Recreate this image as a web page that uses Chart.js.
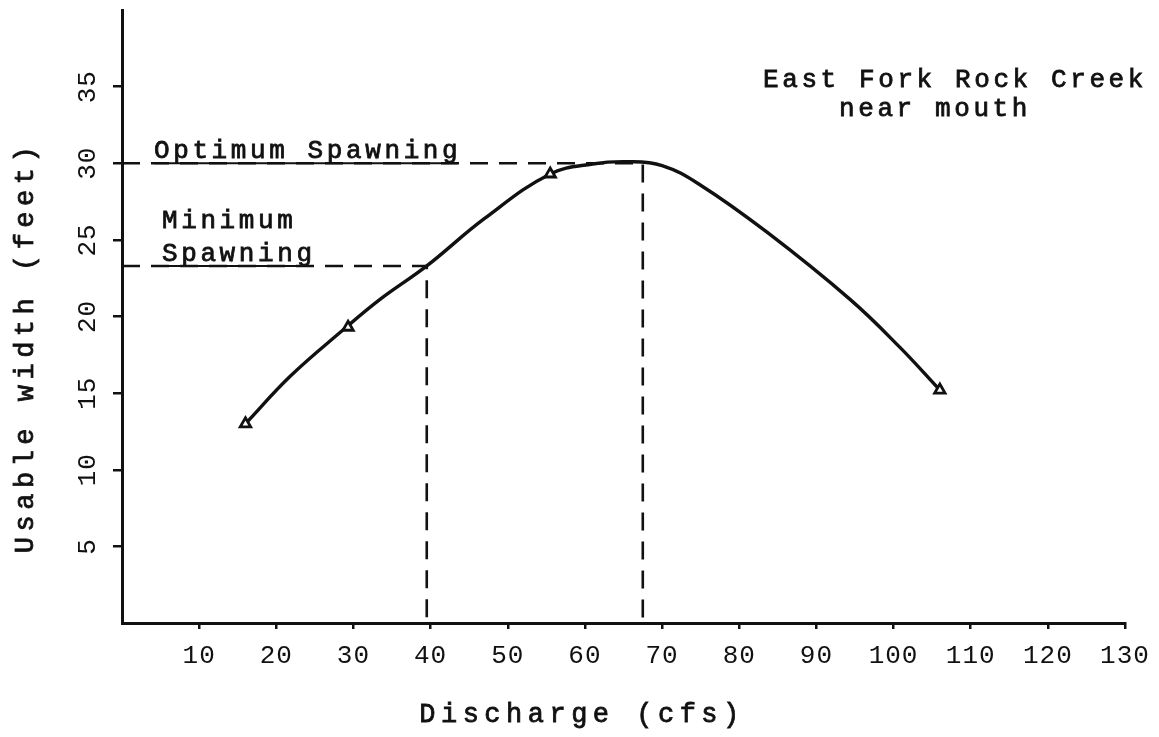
<!DOCTYPE html>
<html>
<head>
<meta charset="utf-8">
<script src="https://cdn.jsdelivr.net/npm/chart.js@4.4.1/dist/chart.umd.min.js"></script>
<style>
  html, body { margin: 0; padding: 0; background: #fff; }
  #wrap { width: 1159px; height: 737px; }
</style>
</head>
<body>
<div id="wrap"><canvas id="usableChart" width="1159" height="737"></canvas></div>
<script>
// measured points (triangles) and the hand drawn curve through them
const discharge = [16, 29.3, 55.5, 106];
const usableWidth = [13, 19.3, 29.3, 15.2];

const curveX = [16, 21.8, 28.6, 33.4, 39.5, 47, 55.5, 61, 65.5, 70, 74.9, 83.6, 94.4, 100.8, 106];
const curveY = [13, 16.1, 19.1, 21.1, 23.3, 26.4, 29.3, 29.95, 30.1, 29.85, 28.6, 25.5, 21.1, 18.0, 15.2];

// spawning levels
const minSpawn = { q: 39.5, w: 23.3 };
const optSpawn = { q: 67.5, w: 30.0 };

const xTicks = [10, 20, 30, 40, 50, 60, 70, 80, 90, 100, 110, 120, 130];
const yTicks = [5, 10, 15, 20, 25, 30, 35];

const FONT = "'Liberation Mono', 'DejaVu Sans Mono', monospace";
const INK = "#111";

const ctx = document.getElementById("usableChart").getContext("2d");

function pts(xs, ys) {
  return xs.map(function (x, i) { return { x: x, y: ys[i] }; });
}

// text labels drawn on top of the plot
const textPlugin = {
  id: "texts",
  beforeUpdate: function (chart) { chart.ctx.letterSpacing = "1px"; },
  beforeDraw: function (chart) { chart.ctx.letterSpacing = "1px"; },
  afterDraw: function (chart) {
    const c = chart.ctx;
    const xs = chart.scales.x;
    const ys = chart.scales.y;
    const yOpt = ys.getPixelForValue(optSpawn.w);
    const yMin = ys.getPixelForValue(minSpawn.w);
    c.save();
    c.fillStyle = INK;
    c.strokeStyle = INK;
    c.font = "26px " + FONT;
    c.letterSpacing = "3.6px";
    c.textBaseline = "alphabetic";
    c.textAlign = "left";

    // typewriter ink is a little heavier than the regular face
    function ink(txt, px, py) {
      c.lineWidth = 0.8;
      c.fillText(txt, px, py);
      c.strokeText(txt, px, py);
    }

    function underlined(txt, px, py, uy) {
      ink(txt, px, py);
      const w = c.measureText(txt).width;
      c.lineWidth = 2;
      c.beginPath();
      c.moveTo(px, uy);
      c.lineTo(px + w - 4, uy);
      c.stroke();
    }

    underlined("Optimum Spawning", xs.left + 32, yOpt - 5, yOpt);
    ink("Minimum", xs.left + 40, yMin - 38);
    underlined("Spawning", xs.left + 40, yMin - 5, yMin);

    c.textAlign = "center";
    ink("East Fork Rock Creek", 955, 87);
    ink("near mouth", 935, 116);

    // axis titles
    c.font = "27px " + FONT;
    c.letterSpacing = "5.5px";
    ink("Discharge (cfs)", 582, 722);
    c.translate(33, 347);
    c.rotate(-Math.PI / 2);
    ink("Usable width (feet)", 0, 0);
    c.restore();
  }
};

new Chart(ctx, {
  type: "scatter",
  data: {
    datasets: [
      {
        label: "curve",
        data: pts(curveX, curveY),
        showLine: true,
        borderColor: INK,
        borderWidth: 3.4,
        pointRadius: 0,
        tension: 0.4,
        order: 2
      },
      {
        label: "measured",
        data: pts(discharge, usableWidth),
        showLine: false,
        pointStyle: "triangle",
        pointRadius: 6,
        pointBorderWidth: 2.8,
        pointBorderColor: INK,
        pointBackgroundColor: "#fff",
        order: 1
      },
      {
        label: "minimum",
        data: [{ x: 0, y: minSpawn.w }, { x: minSpawn.q, y: minSpawn.w }, { x: minSpawn.q, y: 0 }],
        showLine: true,
        borderColor: INK,
        borderWidth: 2.6,
        borderDash: [18, 11],
        pointRadius: 0,
        tension: 0,
        order: 3
      },
      {
        label: "optimum",
        data: [{ x: 0, y: optSpawn.w }, { x: optSpawn.q, y: optSpawn.w }, { x: optSpawn.q, y: 0 }],
        showLine: true,
        borderColor: INK,
        borderWidth: 2.6,
        borderDash: [18, 11],
        pointRadius: 0,
        tension: 0,
        order: 3
      }
    ]
  },
  options: {
    responsive: false,
    devicePixelRatio: 1,
    animation: false,
    layout: { padding: { top: 10, right: 34, left: 0, bottom: 0 } },
    plugins: {
      legend: { display: false },
      tooltip: { enabled: false }
    },
    scales: {
      x: {
        type: "linear",
        min: 0,
        max: 130,
        afterBuildTicks: function (scale) {
          scale.ticks = xTicks.map(function (v) { return { value: v }; });
        },
        afterFit: function (scale) {
          scale.height = 114;
          scale.paddingLeft = 0;
          scale.paddingRight = 0;
        },
        border: { display: true, color: INK, width: 3 },
        grid: { drawOnChartArea: false, drawTicks: true, tickLength: 6, color: INK, lineWidth: 2.5 },
        ticks: {
          color: INK,
          padding: 12,
          maxRotation: 0,
          autoSkip: false,
          font: { family: FONT, size: 26 }
        }
      },
      y: {
        type: "linear",
        min: 0,
        max: 40,
        afterBuildTicks: function (scale) {
          scale.ticks = yTicks.map(function (v) { return { value: v }; });
        },
        afterFit: function (scale) {
          scale.width = 122;
          scale.paddingTop = 0;
          scale.paddingBottom = 0;
        },
        border: { display: true, color: INK, width: 3 },
        grid: { drawOnChartArea: false, drawTicks: true, tickLength: 9, color: INK, lineWidth: 2.5 },
        ticks: {
          color: INK,
          padding: 8,
          minRotation: 90,
          maxRotation: 90,
          crossAlign: "center",
          autoSkip: false,
          font: { family: FONT, size: 26 }
        }
      }
    }
  },
  plugins: [textPlugin]
});
</script>
</body>
</html>
